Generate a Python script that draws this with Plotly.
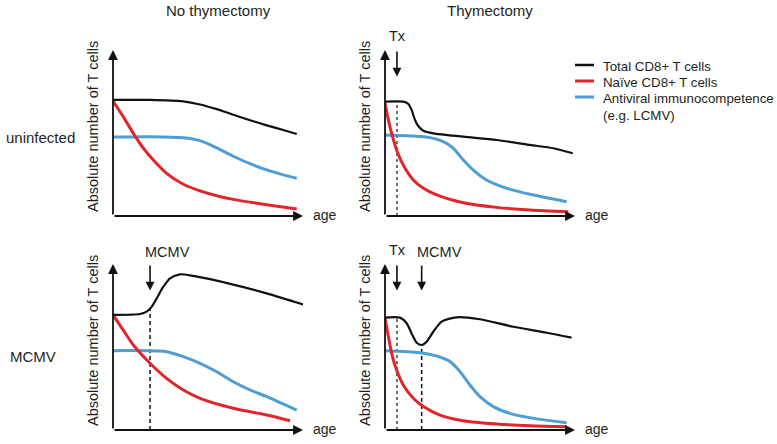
import plotly.graph_objects as go

W, H = 777, 444
FONT = "Liberation Sans, Arial, sans-serif"
TXT = "#231f20"
BLACK = "#111111"
RED = "#e0262c"
BLUE = "#4f9dd6"

series_names = ["Total CD8+ T cells", "Naïve CD8+ T cells",
                "Antiviral immunocompetence<br>(e.g. LCMV)"]
col_titles = ["No thymectomy", "Thymectomy"]
row_titles = ["uninfected", "MCMV"]
y_title = "Absolute number of T cells"
x_title = "age"

# ---- Panel 1: uninfected, no thymectomy ----
p1_total_x = [0, 1.95, 3.70, 4.58, 5.46, 6.33, 7.21, 8.09, 8.96, 9.67]
p1_total_y = [6.99, 6.99, 6.90, 6.72, 6.44, 6.10, 5.77, 5.46, 5.18, 4.94]
p1_naive_x = [0, 0.54, 1.07, 1.60, 2.12, 2.82, 3.70, 4.58, 5.46, 6.33, 8.09, 9.67]
p1_naive_y = [6.93, 5.98, 4.98, 4.08, 3.37, 2.57, 1.91, 1.51, 1.22, 1.0, 0.68, 0.42]
p1_anti_x = [0, 1.95, 3.70, 4.58, 5.46, 6.33, 7.21, 8.09, 8.96, 9.67]
p1_anti_y = [4.76, 4.78, 4.72, 4.54, 4.10, 3.60, 3.15, 2.78, 2.48, 2.27]

# ---- Panel 2: uninfected, thymectomy ----
p2_total_x = [0, 0.96, 1.23, 1.40, 1.58, 1.75, 2.02, 2.54, 4.12, 5.88, 7.63, 8.86, 9.88]
p2_total_y = [6.89, 6.89, 6.75, 6.39, 5.78, 5.42, 5.14, 4.98, 4.78, 4.58, 4.28, 4.08, 3.78]
p2_naive_x = [0, 0.18, 0.35, 0.61, 0.96, 1.49, 2.02, 2.72, 4.12, 5.88, 7.63, 9.65]
p2_naive_y = [6.79, 5.78, 4.98, 3.98, 3.07, 2.17, 1.67, 1.27, 0.80, 0.52, 0.36, 0.26]
p2_anti_x = [0, 1.49, 2.37, 3.07, 3.60, 4.12, 4.65, 5.35, 6.40, 7.63, 9.56]
p2_anti_y = [4.88, 4.82, 4.72, 4.48, 4.08, 3.37, 2.77, 2.17, 1.67, 1.31, 0.86]
p2_tx = 0.63

# ---- Panel 3: MCMV, no thymectomy ----
p3_total_x = [0, 1.42, 1.77, 2.04, 2.30, 2.65, 3.0, 3.53, 4.23, 6.33, 8.09, 10.1]
p3_total_y = [6.93, 6.99, 7.13, 7.43, 7.93, 8.63, 9.14, 9.38, 9.28, 8.76, 8.23, 7.53]
p3_naive_x = [0, 0.54, 1.07, 1.95, 2.82, 3.70, 4.58, 6.33, 8.09, 9.32]
p3_naive_y = [6.93, 6.02, 5.12, 4.02, 3.11, 2.41, 1.91, 1.31, 0.90, 0.56]
p3_anti_x = [0, 2.82, 3.70, 4.58, 5.46, 6.33, 7.21, 8.09, 9.67]
p3_anti_y = [4.78, 4.72, 4.42, 4.02, 3.51, 2.91, 2.41, 2.01, 1.20]
p3_mcmv = 1.95

# ---- Panel 4: MCMV, thymectomy ----
p4_total_x = [0, 0.79, 1.14, 1.40, 1.67, 1.93, 2.19, 2.54, 2.98, 3.77, 5.0, 6.75, 8.51, 9.82]
p4_total_y = [6.77, 6.77, 6.43, 5.82, 5.26, 5.12, 5.32, 5.92, 6.53, 6.79, 6.67, 6.22, 5.86, 5.56]
p4_naive_x = [0, 0.18, 0.35, 0.61, 0.96, 1.49, 2.02, 2.89, 4.12, 5.88, 7.63, 9.56]
p4_naive_y = [6.73, 5.62, 4.62, 3.61, 2.71, 1.91, 1.41, 0.90, 0.56, 0.36, 0.26, 0.20]
p4_anti_x = [0, 1.84, 2.72, 3.42, 3.95, 4.47, 5.0, 5.70, 6.75, 8.16, 9.56]
p4_anti_y = [4.78, 4.66, 4.46, 4.12, 3.51, 2.71, 2.01, 1.41, 0.94, 0.64, 0.44]
p4_tx = 0.63
p4_mcmv = 1.93

arrow_tip = 8.4  # tip of the event arrows in data units

# panel pixel geometry: (left, right, top, bottom) of the axis box
geom = [(113, 303, 50, 216), (385, 575, 50, 216),
        (113, 303, 264, 430), (385, 575, 264, 430)]

panels = [
    dict(total=(p1_total_x, p1_total_y), naive=(p1_naive_x, p1_naive_y),
         anti=(p1_anti_x, p1_anti_y), events=[]),
    dict(total=(p2_total_x, p2_total_y), naive=(p2_naive_x, p2_naive_y),
         anti=(p2_anti_x, p2_anti_y), events=[("Tx", p2_tx, "dot")]),
    dict(total=(p3_total_x, p3_total_y), naive=(p3_naive_x, p3_naive_y),
         anti=(p3_anti_x, p3_anti_y), events=[("MCMV", p3_mcmv, "dash")]),
    dict(total=(p4_total_x, p4_total_y), naive=(p4_naive_x, p4_naive_y),
         anti=(p4_anti_x, p4_anti_y),
         events=[("Tx", p4_tx, "dot"), ("MCMV", p4_mcmv, "dash")]),
]

fig = go.Figure()
annotations = []
shapes = []

def interp(xs, ys, x):
    for i in range(len(xs) - 1):
        if xs[i] <= x <= xs[i + 1]:
            t = (x - xs[i]) / (xs[i + 1] - xs[i])
            return ys[i] + t * (ys[i + 1] - ys[i])
    return ys[-1]

for i, (p, g) in enumerate(zip(panels, geom)):
    n = "" if i == 0 else str(i + 1)
    xr, yr = "x" + n, "y" + n
    left, right, top, bot = g
    fig.layout["xaxis" + n] = dict(domain=[left / W, right / W], range=[0, 10],
                                   visible=False, anchor=yr, fixedrange=True)
    fig.layout["yaxis" + n] = dict(domain=[1 - bot / H, 1 - top / H], range=[0, 10],
                                   visible=False, anchor=xr, fixedrange=True)
    # event vertical lines
    for label, t, dash in p["events"]:
        ytop = interp(*p["total"], t)
        fig.add_trace(go.Scatter(x=[t, t], y=[0, ytop], mode="lines",
                                 line=dict(color=BLACK, width=1.2 if dash == "dot" else 1.5,
                                           dash="dot" if dash == "dot" else "4px,3px"),
                                 xaxis=xr, yaxis=yr, showlegend=False,
                                 hoverinfo="skip", cliponaxis=False))
    for key, color, w in (("anti", BLUE, 3), ("naive", RED, 3), ("total", BLACK, 2.2)):
        xs, ys = p[key]
        fig.add_trace(go.Scatter(x=xs, y=ys, mode="lines",
                                 line=dict(color=color, width=w, shape="spline", smoothing=0.7),
                                 xaxis=xr, yaxis=yr, showlegend=False,
                                 cliponaxis=False, hoverinfo="skip"))
    # axes with arrows
    for (x, y) in ((10, 0), (0, 10)):
        annotations.append(dict(x=x, y=y, ax=0, ay=0, xref=xr, yref=yr, axref=xr, ayref=yr,
                                text="", showarrow=True, arrowhead=2, arrowsize=1.1,
                                arrowwidth=1.8, arrowcolor=BLACK))
    annotations.append(dict(x=10, y=0, xref=xr, yref=yr, text=x_title, showarrow=False,
                            xanchor="left", yanchor="middle", xshift=8, yshift=1,
                            font=dict(size=14, color=TXT, family=FONT)))
    # y axis title
    annotations.append(dict(x=(left - 20) / W, y=1 - ((top + bot) / 2 - 6) / H,
                            xref="paper", yref="paper", text=y_title, textangle=-90,
                            showarrow=False, xanchor="center", yanchor="middle",
                            font=dict(size=14.5, color=TXT, family=FONT)))
    # event arrows + labels
    for label, t, dash in p["events"]:
        annotations.append(dict(x=t, y=arrow_tip, ax=t, ay=10, xref=xr, yref=yr,
                                axref=xr, ayref=yr, text="", showarrow=True,
                                arrowhead=2, arrowsize=1.1, arrowwidth=1.6,
                                arrowcolor=BLACK))
        if label == "Tx":
            annotations.append(dict(x=t, y=10, xref=xr, yref=yr, text=label,
                                    showarrow=False, xanchor="center", yanchor="middle",
                                    yshift=14, xshift=1,
                                    font=dict(size=14.5, color=TXT, family=FONT)))
        else:
            annotations.append(dict(x=t, y=10, xref=xr, yref=yr, text=label,
                                    showarrow=False, xanchor="left", yanchor="middle",
                                    yshift=12, xshift=-7,
                                    font=dict(size=14.5, color=TXT, family=FONT)))

# column and row titles
for title, cx in zip(col_titles, (218, 490)):
    annotations.append(dict(x=cx / W, y=1 - 11 / H, xref="paper", yref="paper",
                            text=title, showarrow=False, xanchor="center", yanchor="middle",
                            font=dict(size=15, color=TXT, family=FONT)))
for title, cy in zip(row_titles, (137, 356)):
    annotations.append(dict(x=(4 if title == "uninfected" else 8) / W, y=1 - cy / H,
                            xref="paper", yref="paper",
                            text=title, showarrow=False, xanchor="left", yanchor="middle",
                            font=dict(size=15, color=TXT, family=FONT)))

# legend (drawn manually)
leg_rows = (65, 81, 97)
for name, color, w, ry in zip(series_names, (BLACK, RED, BLUE), (2.5, 3, 3), leg_rows):
    shapes.append(dict(type="line", xref="paper", yref="paper",
                       x0=575 / W, x1=594 / W, y0=1 - ry / H, y1=1 - ry / H,
                       line=dict(color=color, width=w)))
    annotations.append(dict(x=601 / W, y=1 - (ry - 8) / H, xref="paper", yref="paper",
                            text=name, showarrow=False, xanchor="left", yanchor="top",
                            align="left",
                            font=dict(size=13.3, color=TXT, family=FONT)))

fig.update_layout(width=W, height=H, margin=dict(l=0, r=0, t=0, b=0),
                  paper_bgcolor="white", plot_bgcolor="white",
                  annotations=annotations, shapes=shapes, showlegend=False)
fig.write_html("out.html", config={"displayModeBar": False},
               post_script="document.body.style.margin='0';document.body.style.overflow='hidden';")
